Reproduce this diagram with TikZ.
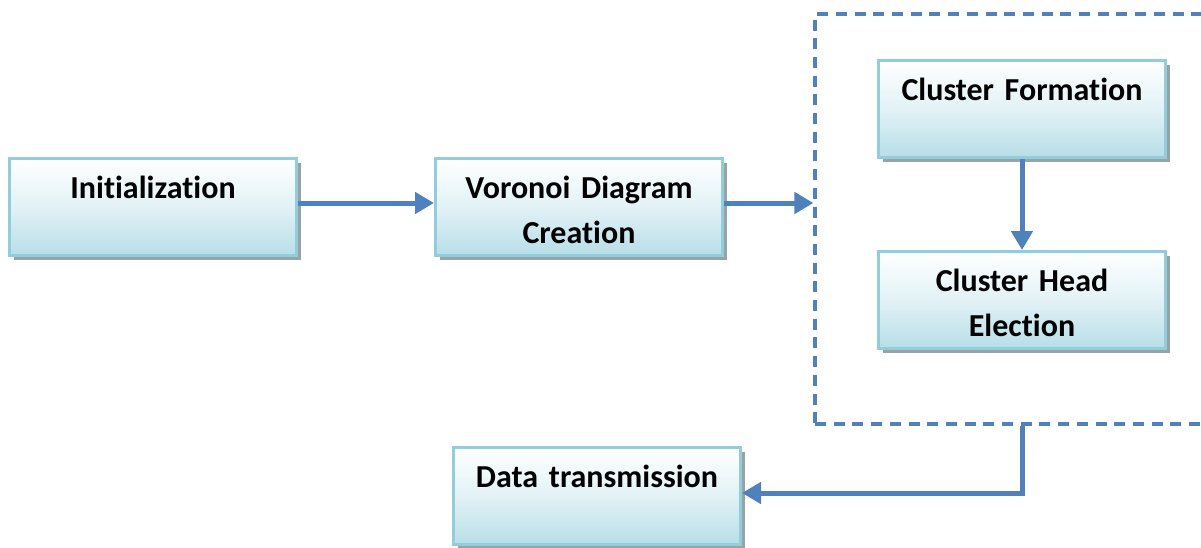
\documentclass[tikz,border=0pt]{standalone}
\usepackage{fontspec}
\setmainfont[Ligatures=NoCommon]{Carlito}
\usetikzlibrary{arrows.meta,shadows}
\definecolor{flowblue}{RGB}{79,129,189}
\definecolor{boxedge}{RGB}{146,205,220}
\definecolor{boxfill}{RGB}{183,222,232}
\definecolor{boxshade}{RGB}{150,164,170}
\tikzset{
  stepbox/.style={
    draw=boxedge, line width=3pt, rectangle, anchor=north west,
    minimum width=287pt, minimum height=97pt, inner sep=0pt,
    top color=white, bottom color=boxfill, middle color=boxfill!40,
    drop shadow={shadow xshift=4pt, shadow yshift=-4pt, fill=boxshade, opacity=1},
    text width=282pt, align=center, text height=39.5pt, text depth=57.5pt,
    font=\fontsize{32}{45}\selectfont\bfseries
  },
  flow/.style={draw=flowblue, line width=5pt,
    -{Triangle[length=19pt,width=21pt]}},
  groupbox/.style={draw=flowblue, line width=3.2pt, dash pattern=on 11pt off 7.7pt,
    rectangle, anchor=north west, minimum width=400pt, minimum height=410pt, inner sep=0pt}
}
\begin{document}
\begin{tikzpicture}[x=1pt,y=-1pt]
  \useasboundingbox (0,0) rectangle (1201,547);
  \clip (0,0) rectangle (1201,547);

  % dashed group around the clustering steps
  \node[groupbox] (group) at (813.4,12.4) {};

  % process steps
  \node[stepbox] (init) at (8,157) {Initialization};
  \node[stepbox] (vor)  at (434,157) {Voronoi Diagram\\Creation};
  \node[stepbox] (cf)   at (877,59) {Cluster Formation};
  \node[stepbox] (ch)   at (877,250) {Cluster Head\\Election};
  \node[stepbox] (data) at (452,446) {Data transmission};

  % connectors
  \draw[flow] ([yshift=4pt]init.east) -- ([yshift=4pt]vor.west);
  \draw[flow] ([yshift=4pt]vor.east) coordinate (vout) -- (vout -| group.west);
  \draw[flow] (cf.south) -- (ch.north);
  \draw[flow] (group.south -| cf.south) |- ([yshift=3pt]data.east);
\end{tikzpicture}
\end{document}
